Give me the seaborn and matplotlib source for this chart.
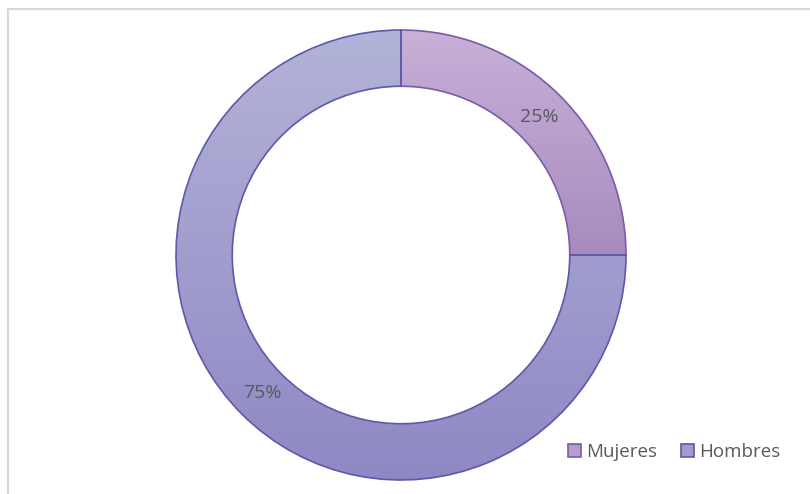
import numpy as np
import seaborn as sns
import matplotlib.pyplot as plt
from matplotlib.patches import Rectangle, Patch

labels = ['Mujeres', 'Hombres']
values = [25, 75]
top_colors = ['#C8B0D8', '#B2B3D8']
bottom_colors = ['#A78BBF', '#8E88C4']
edge_colors = ['#7A5BA8', '#5F58A8']

sns.set_theme(style='white')
plt.rcParams['font.family'] = ['Open Sans', 'DejaVu Sans']

fig = plt.figure(figsize=(8.1, 4.94), dpi=100)
ax = fig.add_axes([176 / 810, 14 / 494, 450 / 810, 450 / 494])

mid_colors = [sns.blend_palette([t, b], 3)[1] for t, b in zip(top_colors, bottom_colors)]
wedges, texts, autotexts = ax.pie(values, colors=mid_colors, startangle=90, counterclock=False,
                                  radius=1, autopct='%1.0f%%', pctdistance=0.87,
                                  wedgeprops=dict(width=0.25, edgecolor='none'),
                                  textprops=dict(color='#595959', fontsize=14))

# vertical gradient fill clipped to each wedge
for w, t, b, e in zip(wedges, top_colors, bottom_colors, edge_colors):
    v = w.get_path().vertices
    y0, y1 = v[:, 1].min(), v[:, 1].max()
    x0, x1 = v[:, 0].min(), v[:, 0].max()
    cmap = sns.blend_palette([b, t], as_cmap=True)
    grad = np.linspace(0, 1, 256).reshape(-1, 1)
    im = ax.imshow(grad, cmap=cmap, origin='lower', extent=[x0, x1, y0, y1],
                   aspect='auto', zorder=1, interpolation='bicubic')
    im.set_clip_path(w)
    w.set_zorder(2)
    w.set_facecolor('none')
    w.set_edgecolor(e)
    w.set_linewidth(1.2)

for t in autotexts:
    t.set_zorder(5)

ax.set_xlim(-1.0, 1.0)
ax.set_ylim(-1.0, 1.0)
ax.set_aspect('equal')
ax.axis('off')

handles = [Patch(facecolor=c, edgecolor=e, linewidth=1.2) for c, e in zip(mid_colors, edge_colors)]
fig.legend(handles, labels, loc='center', bbox_to_anchor=(674 / 810, 1 - 452 / 494), ncol=2,
           frameon=False, fontsize=13.5, handlelength=0.7, handleheight=0.7,
           handletextpad=0.25, columnspacing=1.3, labelcolor='#595959')

# outer chart border
fig.patches.append(Rectangle((8 / 810, -0.1), 1.2, 1 - 9 / 494 + 0.1, transform=fig.transFigure,
                             fill=False, edgecolor='#D9D9D9', linewidth=1.5))

fig.savefig('out.png', dpi=100)
